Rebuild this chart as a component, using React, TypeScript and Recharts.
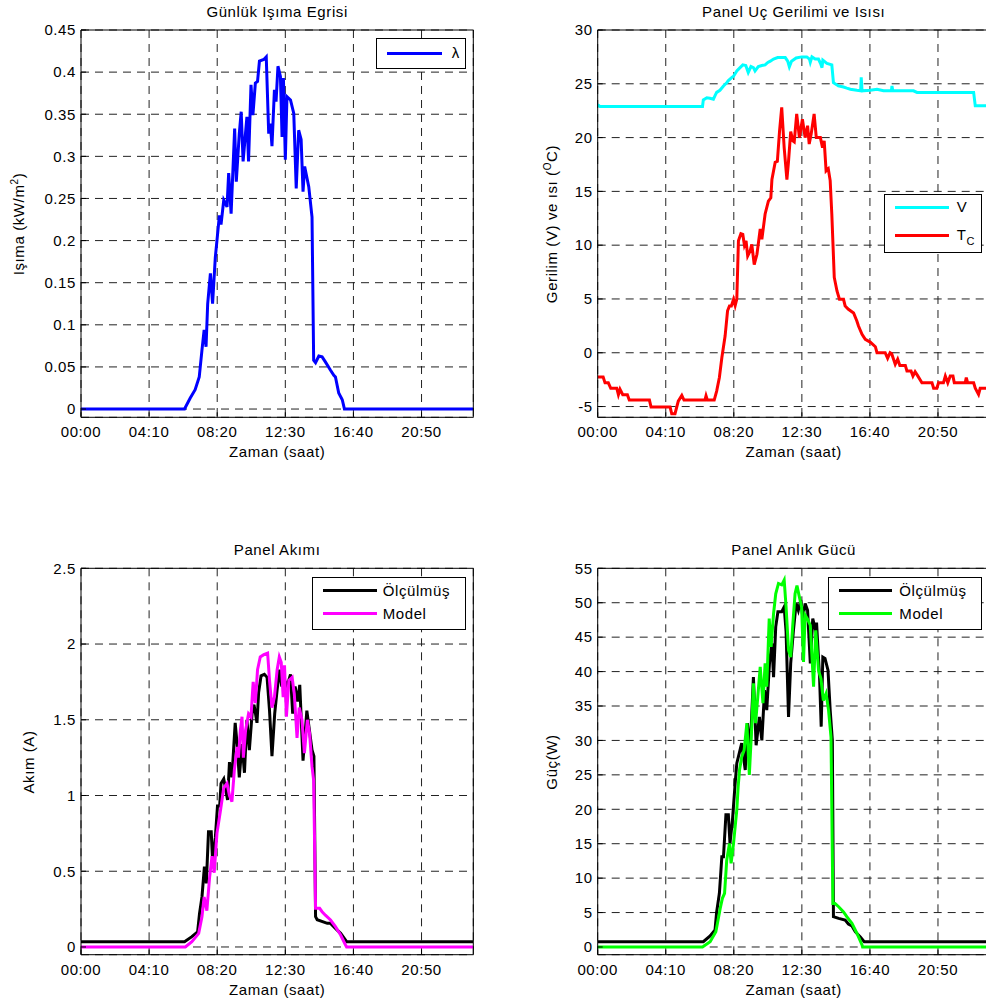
import React from 'react';
import { LineChart, Line, XAxis, YAxis, CartesianGrid, Legend } from 'recharts';

const FONT = "Arial, 'Liberation Sans', Helvetica, sans-serif";
const FS = 15;

// ---- time axis (minutes since 00:00)
const timeTicks = [0, 250, 500, 750, 1000, 1250];
const timeDomain: [number, number] = [0, 1440];

// ---- Günlük Işıma Egrisi (kW/m2)
const irrT = [0, 380, 401, 419, 434, 444, 452, 459, 465, 475, 483, 493, 499, 508, 514, 524, 536, 542, 551, 564, 570, 581, 588, 595, 609, 615, 624, 631, 640, 648, 655, 671, 680, 689, 695, 701, 710, 716, 723, 732, 738, 743, 750, 756, 769, 781, 790, 799, 808, 815, 821, 836, 848, 854, 861, 873, 885, 897, 916, 928, 934, 946, 959, 967, 1440];
const irrV = [0, 0, 0.013, 0.023, 0.038, 0.07, 0.094, 0.074, 0.125, 0.161, 0.125, 0.18, 0.2, 0.23, 0.219, 0.248, 0.24, 0.28, 0.232, 0.333, 0.27, 0.327, 0.353, 0.294, 0.347, 0.294, 0.385, 0.349, 0.387, 0.389, 0.413, 0.415, 0.418, 0.327, 0.339, 0.312, 0.379, 0.365, 0.407, 0.395, 0.323, 0.393, 0.296, 0.371, 0.367, 0.351, 0.262, 0.331, 0.32, 0.258, 0.288, 0.264, 0.228, 0.058, 0.055, 0.063, 0.062, 0.056, 0.046, 0.04, 0.038, 0.019, 0.011, 0, 0];
const irrTicks = [0, 0.05, 0.1, 0.15, 0.2, 0.25, 0.3, 0.35, 0.4, 0.45];

// ---- Panel Uç Gerilimi (V) ve Isısı (°C)
const voltT = [0, 8, 385, 388, 401, 412, 425, 431, 437, 449, 462, 474, 480, 493, 499, 511, 523, 533, 544, 553, 563, 572, 578, 590, 603, 615, 625, 634, 646, 661, 689, 698, 704, 712, 729, 750, 768, 778, 781, 787, 799, 811, 820, 824, 827, 842, 860, 866, 879, 884, 903, 915, 928, 952, 966, 968, 971, 1001, 1026, 1050, 1079, 1081, 1084, 1160, 1173, 1381, 1387, 1440];
const voltV = [23.05, 22.9, 22.9, 23.5, 23.7, 23.66, 23.57, 23.9, 24.2, 24.4, 24.8, 25.1, 25.3, 25.6, 25.7, 26.2, 26.5, 26.76, 26.7, 26.05, 26.6, 26.5, 26.2, 26.6, 26.7, 26.76, 26.98, 27.1, 27.3, 27.44, 27.44, 27.1, 26.58, 27.1, 27.4, 27.5, 27.5, 27.3, 27.0, 27.5, 27.3, 27.3, 26.8, 26.5, 27.2, 26.9, 26.76, 25.1, 24.9, 24.8, 24.7, 24.6, 24.5, 24.4, 24.35, 25.6, 24.35, 24.4, 24.5, 24.35, 24.35, 24.8, 24.35, 24.35, 24.2, 24.2, 22.95, 22.95];
const tempT = [0, 20, 27, 39, 48, 70, 76, 82, 92, 109, 116, 190, 196, 266, 272, 284, 296, 309, 317, 394, 398, 403, 428, 437, 447, 456, 468, 477, 484, 491, 499, 505, 511, 517, 526, 533, 539, 545, 551, 560, 566, 575, 585, 597, 603, 615, 627, 636, 640, 652, 660, 668, 676, 685, 695, 701, 709, 717, 722, 731, 741, 752, 762, 771, 777, 784, 795, 803, 818, 826, 832, 839, 847, 854, 860, 869, 879, 888, 903, 909, 921, 940, 952, 958, 971, 983, 1001, 1020, 1026, 1056, 1065, 1074, 1080, 1093, 1102, 1110, 1130, 1136, 1151, 1158, 1166, 1174, 1191, 1228, 1234, 1246, 1252, 1270, 1277, 1286, 1295, 1305, 1310, 1350, 1354, 1359, 1381, 1387, 1399, 1405, 1440];
const tempV = [-2.26, -2.26, -2.8, -2.8, -3.3, -3.3, -3.9, -3.4, -3.9, -3.9, -4.4, -4.4, -5.05, -5.05, -5.67, -5.67, -4.5, -3.97, -4.4, -4.4, -4.0, -4.4, -4.4, -3.56, -2.3, -0.47, 1.55, 3.9, 4.35, 4.35, 4.97, 4.4, 5.0, 10.4, 11.07, 11.0, 10.0, 10.4, 9.0, 9.46, 10.08, 8.2, 9.15, 11.5, 10.55, 12.9, 14.1, 14.4, 16.1, 17.7, 17.8, 20.6, 22.8, 19.07, 16.1, 17.8, 20.56, 19.7, 19.6, 22.2, 20.0, 21.7, 20.0, 21.1, 19.4, 20.3, 22.2, 20.0, 20.0, 19.07, 19.7, 16.9, 17.1, 16.0, 12.9, 7.0, 5.74, 4.97, 4.97, 4.35, 4.04, 3.7, 2.95, 2.48, 1.71, 1.24, 0.99, 0.56, 0.0, 0.0, -0.52, 0, -0.1, -1.08, -0.6, -1.18, -1.18, -1.7, -1.7, -2.17, -1.77, -2.08, -2.8, -2.8, -3.3, -3.3, -2.8, -2.8, -2.17, -2.8, -2.17, -2.17, -2.8, -2.8, -2.3, -2.8, -2.8, -3.3, -3.87, -3.3, -3.3];
const vtTicks = [-5, 0, 5, 10, 15, 20, 25, 30];

// ---- Panel Akımı (A)
const curMeasT = [0, 380, 407, 428, 435, 444, 453, 460, 468, 478, 483, 493, 501, 509, 514, 524, 538, 545, 554, 566, 573, 581, 591, 600, 609, 618, 628, 635, 646, 652, 661, 673, 683, 692, 701, 711, 720, 729, 737, 744, 756, 769, 777, 786, 795, 803, 815, 829, 848, 855, 861, 867, 904, 916, 934, 953, 975, 1440];
const curMeasV = [0.035, 0.035, 0.068, 0.1, 0.22, 0.33, 0.53, 0.42, 0.76, 0.76, 0.57, 0.72, 0.93, 0.93, 1.08, 1.11, 0.97, 1.22, 1.12, 1.48, 1.34, 1.12, 1.34, 1.15, 1.5, 1.3, 1.54, 1.6, 1.48, 1.68, 1.79, 1.8, 1.78, 1.56, 1.26, 1.54, 1.7, 1.83, 1.72, 1.78, 1.72, 1.8, 1.54, 1.72, 1.62, 1.73, 1.23, 1.56, 1.3, 1.26, 0.2, 0.18, 0.156, 0.156, 0.123, 0.09, 0.035, 0.035];
const curModelT = [0, 383, 407, 432, 444, 452, 462, 472, 481, 489, 499, 511, 524, 536, 545, 554, 563, 573, 578, 585, 591, 596, 604, 615, 624, 632, 640, 648, 658, 671, 685, 692, 701, 710, 720, 728, 735, 742, 747, 754, 763, 775, 783, 793, 801, 811, 820, 831, 839, 848, 854, 861, 876, 885, 897, 916, 934, 953, 971, 975, 1440];
const curModelV = [0, 0, 0.035, 0.09, 0.2, 0.33, 0.24, 0.46, 0.6, 0.49, 0.75, 0.89, 1.05, 1.08, 1.0, 0.96, 1.17, 1.32, 1.25, 1.43, 1.52, 1.25, 1.43, 1.54, 1.52, 1.75, 1.61, 1.83, 1.915, 1.93, 1.94, 1.76, 1.58, 1.65, 1.83, 1.915, 1.88, 1.65, 1.86, 1.52, 1.76, 1.78, 1.67, 1.38, 1.58, 1.5, 1.28, 1.5, 1.41, 1.19, 1.1, 0.255, 0.255, 0.233, 0.21, 0.178, 0.134, 0.079, 0.013, 0, 0];
const curTicks = [0, 0.5, 1, 1.5, 2, 2.5];

// ---- Panel Anlık Gücü (W)
const powMeasT = [0, 388, 413, 431, 437, 447, 456, 462, 471, 480, 486, 495, 505, 511, 521, 529, 542, 550, 560, 572, 582, 594, 603, 613, 621, 631, 640, 646, 654, 662, 676, 685, 692, 701, 709, 719, 729, 737, 746, 754, 762, 771, 781, 790, 798, 804, 815, 821, 827, 835, 846, 854, 862, 866, 885, 909, 921, 934, 946, 964, 979, 1440];
const powMeasV = [0.77, 0.77, 1.6, 2.47, 5.1, 7.8, 13.1, 13.1, 19.2, 19.2, 15.05, 18.4, 23.8, 26.7, 28.3, 29.6, 25.7, 32.5, 28.6, 39.2, 29.3, 33.4, 30.0, 37.3, 34.4, 41.2, 44.1, 39.2, 46.5, 48.7, 48.7, 49.4, 45.8, 33.4, 41.2, 46.0, 49.9, 48.9, 50.4, 47.7, 49.9, 48.9, 41.2, 47.7, 46.4, 47.1, 39.2, 32.0, 42.1, 41.9, 40.2, 34.4, 30.0, 4.4, 4.16, 3.9, 3.34, 3.05, 2.22, 1.5, 0.77, 0.77];
const powModelT = [0, 385, 413, 434, 450, 458, 466, 474, 484, 490, 499, 511, 516, 521, 529, 538, 548, 557, 566, 572, 580, 588, 597, 607, 615, 621, 630, 637, 646, 654, 664, 676, 685, 692, 701, 709, 717, 725, 732, 740, 749, 756, 762, 771, 781, 793, 801, 811, 820, 829, 839, 848, 857, 864, 872, 885, 903, 915, 934, 952, 971, 973, 1440];
const powModelV = [0, 0, 0.77, 2.2, 5.6, 7.07, 7.8, 12.6, 15.05, 12.15, 15.05, 19.9, 23.3, 25.7, 27.6, 28.6, 32.5, 25.0, 32.0, 38.3, 32.5, 36.3, 40.7, 35.4, 41.2, 37.8, 47.7, 43.6, 48.4, 51.3, 52.8, 52.6, 53.3, 49.4, 43.1, 42.1, 47.0, 51.3, 52.5, 51.0, 49.4, 41.4, 48.2, 47.6, 46.7, 37.8, 46.0, 40.2, 39.0, 35.8, 36.8, 34.4, 30.5, 6.3, 6.3, 5.85, 5.1, 4.4, 3.44, 2.0, 0.3, 0, 0];
const powTicks = [0, 5, 10, 15, 20, 25, 30, 35, 40, 45, 50, 55];

const pts = (t: number[], v: number[]) => t.map((x, i) => ({ t: x, v: v[i] }));
const fmtTime = (m: number) => {
  const h = Math.floor(m / 60);
  const mm = m % 60;
  return `${String(h).padStart(2, '0')}:${String(mm).padStart(2, '0')}`;
};

type SeriesDef = { name: string; color: string; t: number[]; v: number[] };
type LegendRow = { color: string; label: React.ReactNode; y: number };
type LegendSpec = { left: number; top: number; width: number; height: number; lineX: number; lineW: number; textX: number; rows: LegendRow[] };

type PanelProps = {
  left: number; top: number; width: number; height: number;
  margin: { top: number; right: number; bottom: number; left: number };
  yDomain: [number, number]; yTicks: number[];
  series: SeriesDef[];
  title: string; titleX: number; titleY: number;
  xLabelY: number;
  yLabel: React.ReactNode; yLabelX: number; yLabelY: number;
  legend: LegendSpec;
};

const LegendBox = ({ spec }: { spec: LegendSpec }) => (
  <div style={{ position: 'relative', width: spec.width, height: spec.height, border: '1px solid #000', background: '#fff', boxSizing: 'border-box', fontFamily: FONT, fontSize: FS, color: '#000' }}>
    {spec.rows.map((r, i) => (
      <React.Fragment key={i}>
        <div style={{ position: 'absolute', left: spec.lineX - 1, top: r.y - 1 - 1.5, width: spec.lineW, height: 3, background: r.color }} />
        <div style={{ position: 'absolute', left: spec.textX - 1, top: r.y - 1 - 10, height: 20, lineHeight: '20px', whiteSpace: 'nowrap' }}>{r.label}</div>
      </React.Fragment>
    ))}
  </div>
);

const Panel = (p: PanelProps) => {
  const plotLeft = p.margin.left + 1;
  const plotRight = p.width - p.margin.right - 1;
  const cx = (plotLeft + plotRight) / 2;
  return (
    <div style={{ position: 'absolute', left: p.left, top: p.top, width: p.width, height: p.height }}>
      <LineChart width={p.width} height={p.height} margin={p.margin}>
        <CartesianGrid xAxisId="x" yAxisId="y" stroke="#222" strokeDasharray="8 6" strokeWidth={1} />
        <XAxis xAxisId="x" type="number" dataKey="t" domain={timeDomain} ticks={timeTicks} tickFormatter={fmtTime}
          allowDataOverflow interval={0} height={1} tickSize={-5} tickMargin={14.5} stroke="#000"
          tick={{ fill: '#000', fontSize: FS }} />
        <XAxis xAxisId="xt" orientation="top" type="number" domain={timeDomain} ticks={timeTicks}
          allowDataOverflow interval={0} height={1} tickSize={-5} stroke="#000" tick={false} />
        <YAxis yAxisId="y" type="number" domain={p.yDomain} ticks={p.yTicks} allowDataOverflow interval={0}
          width={1} tickSize={-5} tickMargin={10} stroke="#000" tick={{ fill: '#000', fontSize: FS }} />
        <YAxis yAxisId="yr" orientation="right" type="number" domain={p.yDomain} ticks={p.yTicks} allowDataOverflow
          interval={0} width={1} tickSize={-5} stroke="#000" tick={false} />
        {p.series.map((s) => (
          <Line key={s.name} xAxisId="x" yAxisId="y" data={pts(s.t, s.v)} dataKey="v" name={s.name} type="linear"
            stroke={s.color} strokeWidth={3} dot={false} activeDot={false} isAnimationActive={false} />
        ))}
        <Legend layout="vertical" align="center" verticalAlign="middle"
          wrapperStyle={{ left: p.legend.left, top: p.legend.top, width: p.legend.width, height: p.legend.height }}
          content={() => <LegendBox spec={p.legend} />} />
      </LineChart>
      <div style={{ position: 'absolute', left: cx, top: p.titleY - 12.7, transform: 'translateX(-50%)', whiteSpace: 'nowrap', fontSize: FS, lineHeight: `${FS}px`, color: '#000' }}>{p.title}</div>
      <div style={{ position: 'absolute', left: cx, top: p.xLabelY - 12.7, transform: 'translateX(-50%)', whiteSpace: 'nowrap', fontSize: FS, lineHeight: `${FS}px`, color: '#000' }}>Zaman (saat)</div>
      <div style={{ position: 'absolute', left: p.yLabelX, top: p.yLabelY, transform: 'translate(-50%, -50%) rotate(-90deg)', whiteSpace: 'nowrap', fontSize: FS, lineHeight: '18px', color: '#000' }}>{p.yLabel}</div>
    </div>
  );
};

const sup = (s: string) => <span style={{ fontSize: 10, position: 'relative', top: -6 }}>{s}</span>;
const sub = (s: string) => <span style={{ fontSize: 11, position: 'relative', top: 5 }}>{s}</span>;

export default function App() {
  return (
    <div style={{ position: 'absolute', left: 0, top: 0, width: 986, height: 1003, overflow: 'hidden', background: '#fff', fontFamily: FONT, letterSpacing: '0.6px' }}>
      <Panel left={0} top={0} width={490} height={470}
        margin={{ top: 29, left: 80, right: 15.7, bottom: 51.7 }}
        yDomain={[-0.0098, 0.45]} yTicks={irrTicks}
        series={[{ name: 'λ', color: '#0000ff', t: irrT, v: irrV }]}
        title="Günlük Işıma Egrisi" titleX={0} titleY={17} xLabelY={457}
        yLabel={<span>Işıma (kW/m{sup('2')})</span>} yLabelX={20} yLabelY={223.7}
        legend={{ left: 375.7, top: 38.3, width: 90.3, height: 30.7, lineX: 11.6, lineW: 54.4, textX: 76, rows: [{ color: '#0000ff', label: 'λ', y: 15 }] }} />
      <Panel left={490} top={0} width={520} height={470}
        margin={{ top: 29, left: 106.7, right: 19.3, bottom: 51.7 }}
        yDomain={[-6, 30]} yTicks={vtTicks}
        series={[{ name: 'V', color: '#00ffff', t: voltT, v: voltV }, { name: 'TC', color: '#ff0000', t: tempT, v: tempV }]}
        title="Panel Uç Gerilimi ve Isısı" titleX={0} titleY={17} xLabelY={457}
        yLabel={<span>Gerilim (V) ve ısı ({sup('O')}C)</span>} yLabelX={62.5} yLabelY={223.7}
        legend={{ left: 394, top: 194, width: 98, height: 59, lineX: 11, lineW: 54.3, textX: 72.7, rows: [{ color: '#00ffff', label: 'V', y: 13.3 }, { color: '#ff0000', label: <span>T{sub('C')}</span>, y: 41 }] }} />
      <Panel left={0} top={540} width={490} height={463}
        margin={{ top: 27.3, left: 80, right: 15.7, bottom: 47.3 }}
        yDomain={[-0.051, 2.5]} yTicks={curTicks}
        series={[{ name: 'Ölçülmüş', color: '#000000', t: curMeasT, v: curMeasV }, { name: 'Model', color: '#ff00ff', t: curModelT, v: curModelV }]}
        title="Panel Akımı" titleX={0} titleY={15} xLabelY={455}
        yLabel={<span>Akım (A)</span>} yLabelX={29} yLabelY={221.5}
        legend={{ left: 312, top: 36.7, width: 154, height: 53.3, lineX: 11.3, lineW: 53.4, textX: 70.7, rows: [{ color: '#000000', label: 'Ölçülmüş', y: 14 }, { color: '#ff00ff', label: 'Model', y: 37.3 }] }} />
      <Panel left={490} top={540} width={520} height={463}
        margin={{ top: 27.3, left: 106.7, right: 19.3, bottom: 47.3 }}
        yDomain={[-1.12, 55]} yTicks={powTicks}
        series={[{ name: 'Ölçülmüş', color: '#000000', t: powMeasT, v: powMeasV }, { name: 'Model', color: '#00ff00', t: powModelT, v: powModelV }]}
        title="Panel Anlık Gücü" titleX={0} titleY={15} xLabelY={455}
        yLabel={<span>Güç(W)</span>} yLabelX={61.5} yLabelY={221.5}
        legend={{ left: 338.3, top: 36.7, width: 154, height: 53.3, lineX: 11, lineW: 52.4, textX: 71, rows: [{ color: '#000000', label: 'Ölçülmüş', y: 14 }, { color: '#00ff00', label: 'Model', y: 37.3 }] }} />
    </div>
  );
}
